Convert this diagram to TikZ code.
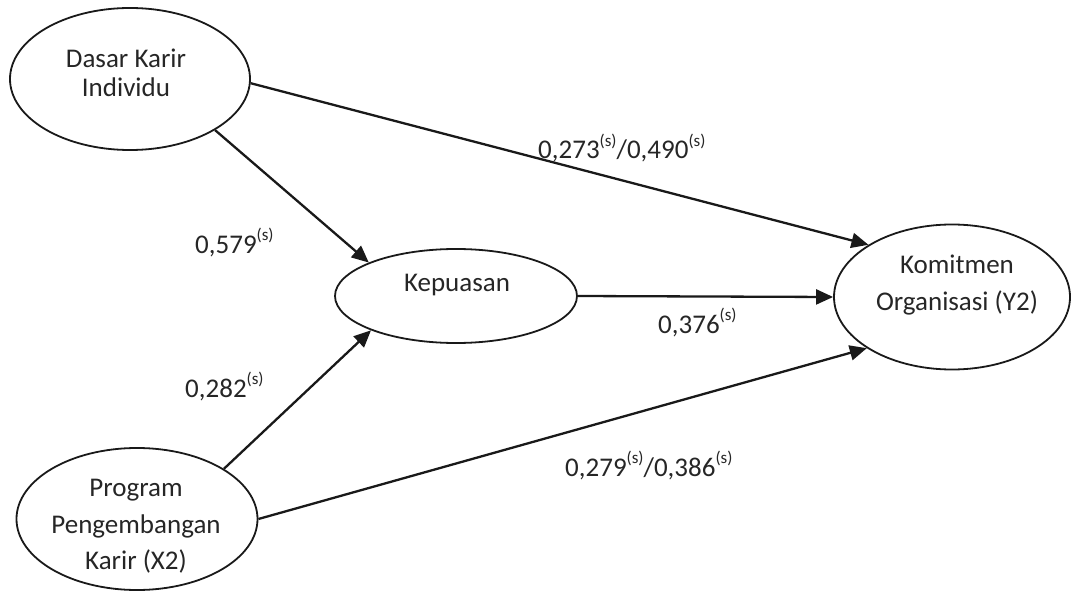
\documentclass[tikz,border=0pt]{standalone}
\usepackage{fontspec}
\setmainfont{Carlito}
\usetikzlibrary{arrows.meta,shapes.geometric}
\newcommand\sgn{\raisebox{0.48em}{\fontsize{17}{17}\selectfont(s)}}
\tikzset{
  ellip/.style={draw=black!90, line width=1.8pt, ellipse, inner sep=0pt},
  txt/.style={font=\fontsize{27}{30}\selectfont, text=black!85, inner sep=0pt, anchor=base},
  lbl/.style={font=\fontsize{27}{30}\selectfont, text=black!85, inner sep=0pt, anchor=base west},
  conn/.style={draw=black!90, line width=2.3pt, -{Triangle[length=17pt,width=15pt]}}
}
\begin{document}
\begin{tikzpicture}[x=1pt,y=-1pt]
\useasboundingbox (0,0) rectangle (1072,591);
% ellipses
\node[ellip, minimum width=240pt, minimum height=142pt] (dk) at (130,79) {};
\node[ellip, minimum width=242pt, minimum height=94pt] (kp) at (456,296) {};
\node[ellip, minimum width=236pt, minimum height=145pt] (km) at (952,297) {};
\node[ellip, minimum width=241pt, minimum height=142pt] (pp) at (137,519) {};
% texts
\node[txt] (dk1) at (126,68) {Dasar Karir};
\node[txt] (dk2) at (126,97) {Individu};
\node[txt] (kp1) at (457,291) {Kepuasan};
\node[txt] (km1) at (957,273) {Komitmen};
\node[txt] (km2) at (957,310) {Organisasi (Y2)};
\node[txt] (pp1) at (136,496) {Program};
\node[txt] (pp2) at (136,533) {Pengembangan};
\node[txt] (pp3) at (136,569) {Karir (X2)};
% connectors
\draw[conn] (dk.-2) -- (km.148.6);
\draw[conn] (dk.-31) -- (kp.159.7);
\draw[conn] (kp.east) -- (km.west);
\draw[conn] (pp.30.6) -- (kp.202);
\draw[conn] (pp.0) -- (km.211.9);
% labels
\node[lbl] (l1) at (538,159) {0,273\sgn/0,490\sgn};
\node[lbl] (l2) at (195,253) {0,579\sgn};
\node[lbl] (l3) at (658,333) {0,376\sgn};
\node[lbl] (l4) at (185,397) {0,282\sgn};
\node[lbl] (l5) at (565,476) {0,279\sgn/0,386\sgn};
\end{tikzpicture}
\end{document}
